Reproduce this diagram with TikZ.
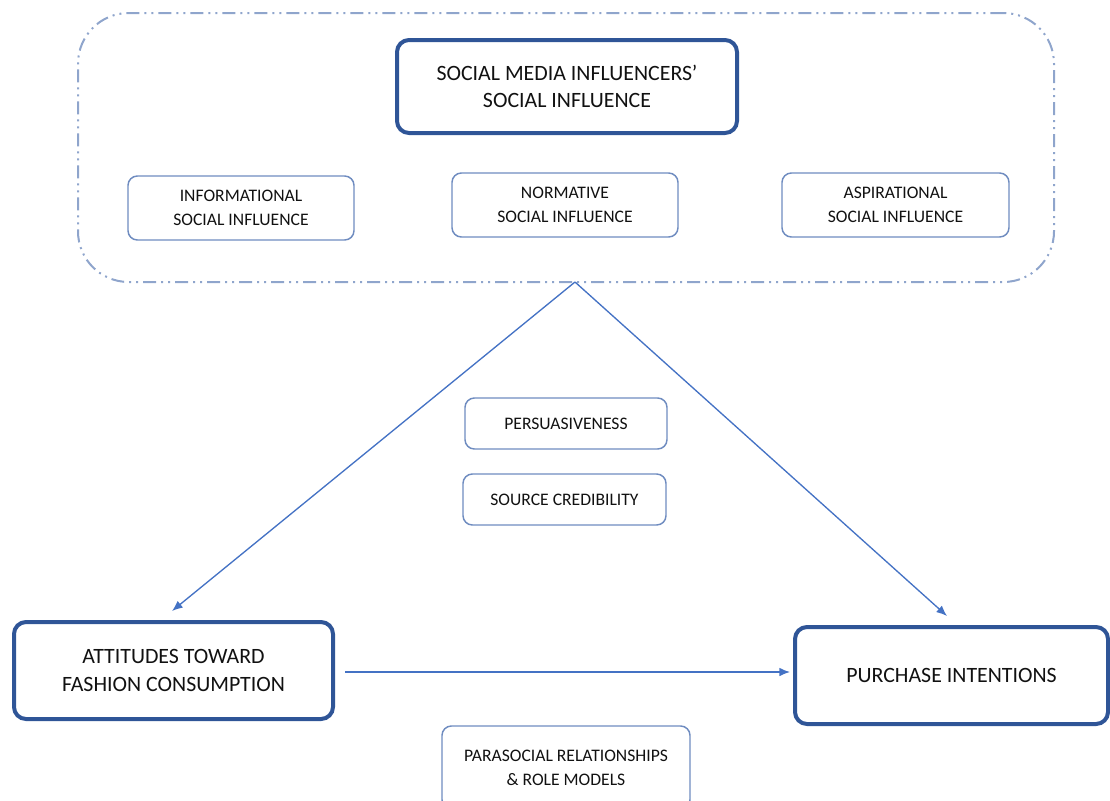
\documentclass[tikz,border=0pt]{standalone}
\usepackage{fontspec}
\setmainfont{Carlito}
\usetikzlibrary{arrows.meta}
\definecolor{darkframe}{HTML}{2F5597}
\definecolor{thinframe}{HTML}{6F8CC0}
\definecolor{dashframe}{HTML}{8FA5CC}
\definecolor{arrowblue}{HTML}{4472C4}
\definecolor{inktext}{HTML}{111111}
\begin{document}
\begin{tikzpicture}[x=0.75pt,y=-0.75pt,
  bigbox/.style={draw=darkframe, line width=3pt, rounded corners=9pt, align=center,
    text=inktext, font=\fontsize{16.4}{20.6}\selectfont, inner sep=0pt},
  smallbox/.style={draw=thinframe, line width=1.1pt, rounded corners=7pt, align=center,
    text=inktext, font=\fontsize{13.2}{18}\selectfont, inner sep=0pt},
  groupframe/.style={draw=dashframe, line width=1.5pt, rounded corners=38pt,
    dash pattern=on 9.75pt off 3.75pt on 1.5pt off 3.75pt on 1.5pt off 3.75pt},
  arr/.style={draw=arrowblue, line width=1pt, -{Latex[length=8pt,width=6.5pt]}}]
\useasboundingbox (0,0) rectangle (1110,800);

% grouping frame around the social influence types
\node[groupframe, minimum width=732pt, minimum height=201.75pt] (group) at (566,147.5) {};

\node[bigbox, minimum width=255pt, minimum height=69.75pt] (smi) at (567,86.5)
  {SOCIAL MEDIA INFLUENCERS’\\SOCIAL INFLUENCE};

\node[smallbox, minimum width=169.5pt, minimum height=48pt] (info) at (241,208)
  {INFORMATIONAL\\SOCIAL INFLUENCE};
\node[smallbox, minimum width=169.5pt, minimum height=48pt] (norm) at (565,205)
  {NORMATIVE\\SOCIAL INFLUENCE};
\node[smallbox, minimum width=170.25pt, minimum height=48pt] (asp) at (895.5,205)
  {ASPIRATIONAL\\SOCIAL INFLUENCE};

% mediating factors
\node[smallbox, minimum width=151.5pt, minimum height=38.25pt] (pers) at (566,423.5)
  {PERSUASIVENESS};
\node[smallbox, minimum width=152.25pt, minimum height=38.25pt] (cred) at (564.5,499.5)
  {SOURCE CREDIBILITY};

% outcome constructs
\node[bigbox, minimum width=239.25pt, minimum height=72.75pt] (att) at (173.5,670.5)
  {ATTITUDES TOWARD\\FASHION CONSUMPTION};
\node[bigbox, minimum width=234.75pt, minimum height=72.75pt] (purch) at (951.5,675.5)
  {PURCHASE INTENTIONS};

\node[smallbox, minimum width=186pt, minimum height=62.25pt] (para) at (566,767.5)
  {PARASOCIAL RELATIONSHIPS\\\& ROLE MODELS};

% connector end points
\coordinate (apex) at (575,282);
\coordinate (attTip) at (172,611);
\coordinate (purchTip) at (947,616);
\coordinate (hStart) at (345,672);
\coordinate (hEnd) at (790,672);

\draw[arr] (apex) -- (attTip);
\draw[arr] (apex) -- (purchTip);
\draw[arr] (hStart) -- (hEnd);
\end{tikzpicture}
\end{document}
